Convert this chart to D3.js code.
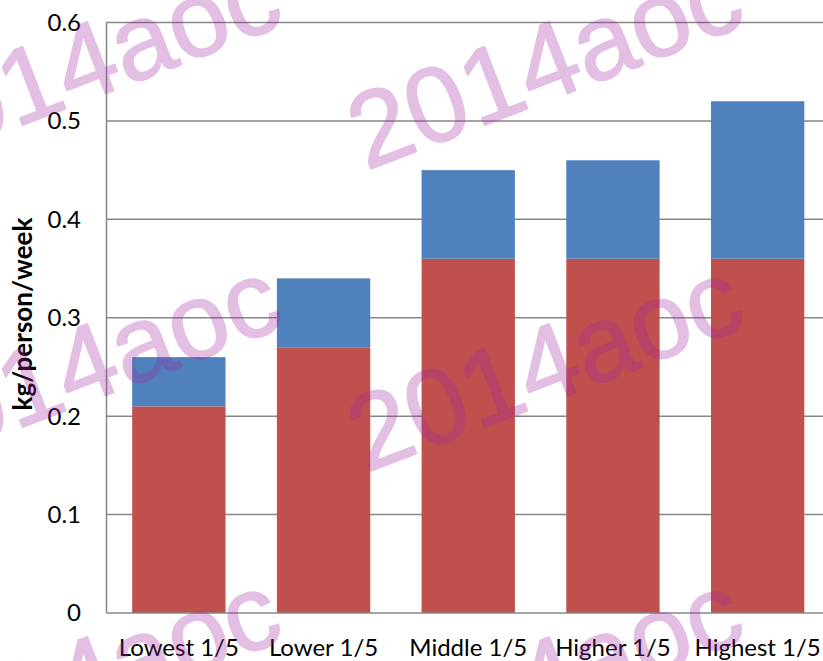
<!DOCTYPE html>
<html><head><meta charset="utf-8">
<script src="https://cdn.jsdelivr.net/npm/d3@7"></script>
<style>html,body{margin:0;padding:0;background:#fff;overflow:hidden}</style>
</head><body>
<svg id="c" width="823" height="661"></svg>
<script>
const categories = ["Lowest 1/5", "Lower 1/5", "Middle 1/5", "Higher 1/5", "Highest 1/5"];
const redValues  = [0.21, 0.27, 0.36, 0.36, 0.36];
const blueValues = [0.05, 0.07, 0.09, 0.10, 0.16];
const yTicks = [0, 0.1, 0.2, 0.3, 0.4, 0.5, 0.6];
const tickLabels = ["0", "0.1", "0.2", "0.3", "0.4", "0.5", "0.6"];
const yTitle = "kg/person/week";
const watermark = "2014aoc";

const svg = d3.select("#c");
const x = d3.scaleBand().domain(categories).range([106.5, 830]).paddingInner(0.355).paddingOuter(0.1775);
const y = d3.scaleLinear().domain([0, 0.6]).range([613, 22.5]);
const grid = "#878787";

// gridlines
svg.append("g").selectAll("line").data(yTicks.slice(1)).join("line")
  .attr("x1", 106.5).attr("x2", 830)
  .attr("y1", d => y(d)).attr("y2", d => y(d))
  .attr("stroke", grid).attr("stroke-width", 1.5);

// bars
const stackData = categories.map((c, i) => ({cat: c, red: redValues[i], blue: blueValues[i]}));
const series = d3.stack().keys(["red", "blue"])(stackData);
const colors = {red: "#C0504D", blue: "#4F81BD"};
svg.append("g").selectAll("g").data(series).join("g")
  .attr("fill", d => colors[d.key])
  .selectAll("rect").data(d => d).join("rect")
  .attr("x", d => x(d.data.cat))
  .attr("width", x.bandwidth())
  .attr("y", d => y(d[1]))
  .attr("height", d => y(d[0]) - y(d[1]));

// axes lines
svg.append("line").attr("x1", 106.5).attr("x2", 106.5).attr("y1", y(0.6)).attr("y2", y(0))
  .attr("stroke", grid).attr("stroke-width", 1.5);
svg.append("line").attr("x1", 106.5).attr("x2", 830).attr("y1", y(0)).attr("y2", y(0))
  .attr("stroke", grid).attr("stroke-width", 1.5);

// y tick labels
svg.append("g").selectAll("text").data(yTicks).join("text")
  .attr("x", 81).attr("y", d => y(d))
  .attr("dy", "0.35em")
  .attr("text-anchor", "end")
  .attr("font-family", "Lato, 'Open Sans', sans-serif")
  .attr("font-size", 24)
  .attr("fill", "#000")
  .text((d, i) => tickLabels[i]);

// x labels
svg.append("g").selectAll("text").data(categories).join("text")
  .attr("x", d => x(d) + x.bandwidth() / 2).attr("y", 656)
  .attr("text-anchor", "middle")
  .attr("font-family", "Lato, 'Open Sans', sans-serif")
  .attr("font-size", 24)
  .attr("fill", "#000")
  .text(d => d);

// y title
svg.append("text")
  .attr("transform", `translate(32, 314) rotate(-90)`)
  .attr("text-anchor", "middle")
  .attr("font-family", "Lato, 'Open Sans', sans-serif")
  .attr("font-weight", "bold")
  .attr("font-size", 26)
  .attr("fill", "#000")
  .text(yTitle);

// watermark
const wmPos = [[366,171],[366,473],[366,786],[-96,171],[-96,473],[-96,786]];
const wm = svg.append("g").attr("opacity", 0.3);
wm.selectAll("text").data(wmPos).join("text")
  .attr("transform", d => `translate(${d[0]},${d[1]}) rotate(-21)`)
  .attr("font-family", "'Liberation Sans', Arial, sans-serif")
  .attr("font-size", 107)
  .attr("fill", "rgb(160,40,160)")
  .attr("stroke", "rgb(160,40,160)")
  .attr("stroke-width", 1.5)
  .attr("stroke-linejoin", "round")
  .text(watermark);
</script>
</body></html>
